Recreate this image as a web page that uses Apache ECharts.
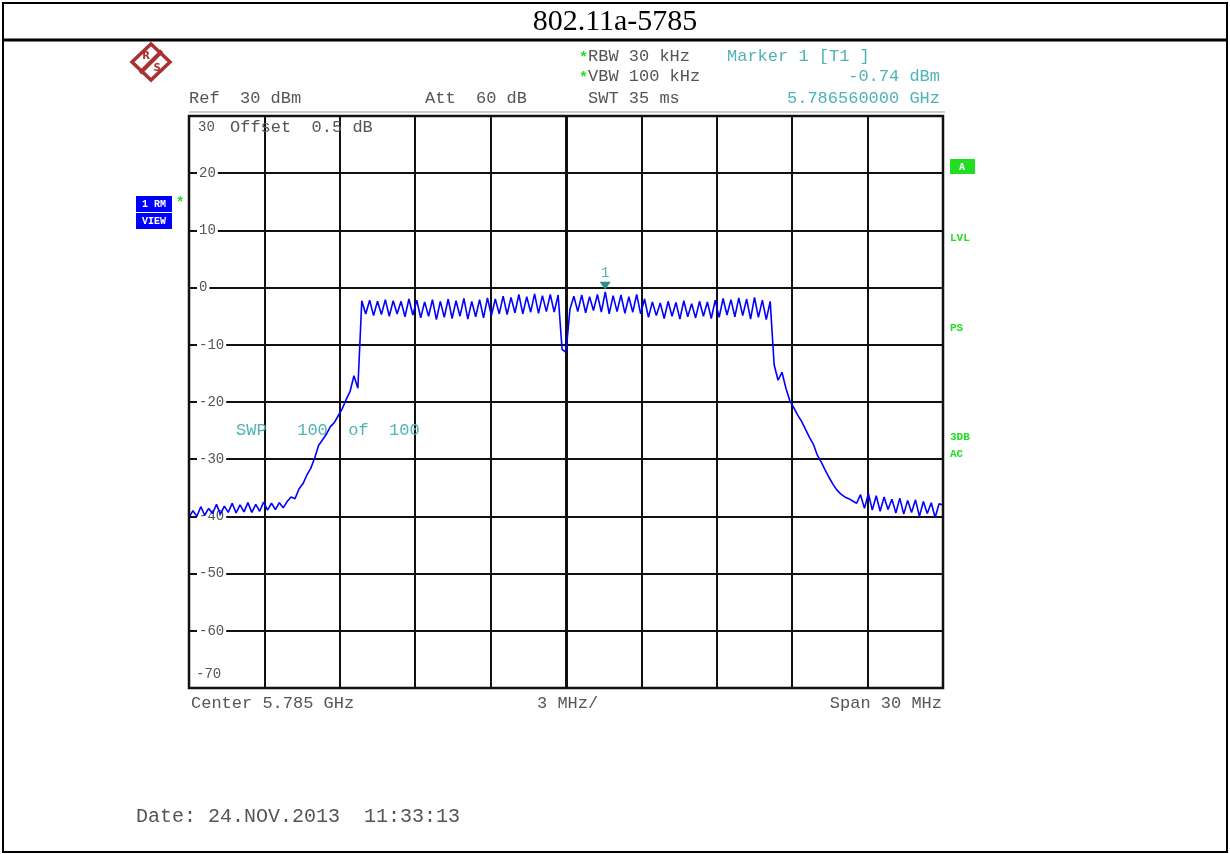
<!DOCTYPE html>
<html lang="en">
<head>
<meta charset="UTF-8">
<title>802.11a-5785</title>
<script src="https://cdn.jsdelivr.net/npm/echarts@6/dist/echarts.min.js"></script>
<style>
  html, body { margin: 0; padding: 0; background: #fff; }
  #main { width: 1230px; height: 854px; }
</style>
</head>
<body>
<div id="main"></div>
<script>
// trace levels in dBm, one point every 0.15625 MHz from -15 MHz (offset from 5.785 GHz)
var startMHz = -15;
var stepMHz = 0.15625;
var floorLeft = [-40.2, -39, -40, -38.3, -39.8, -38.6, -39.5, -37.9, -39.6, -38.2, -39.3, -37.7, -39.4,
    -38, -39.2, -37.6, -39.3, -37.9, -39.1, -37.5, -38.9, -37.7, -38.8, -37.6, -38.5];
var riseLeft = [-37.4, -36.6, -36.9, -35.2, -34.3, -32.8, -31.6, -29.8, -27.6, -26.6, -25.6, -24.3,
    -23.6, -22.4, -21.2, -19.6, -18.2, -15.4, -17.6];
var bandLeft = [-2.3, -4.6, -2.2, -4.9, -2.4, -4.7, -2.1, -5.0, -2.3, -4.6, -2.4, -5.1, -2.0, -4.8,
    -2.2, -5.3, -2.5, -5.0, -2.1, -5.6, -2.4, -5.2, -2.0, -5.4, -2.3, -5.0, -1.9, -5.5, -2.4, -5.1,
    -2.1, -5.3, -1.8, -4.9, -2.0, -4.6, -1.5, -4.7, -1.7, -4.4, -1.2, -4.6, -1.6, -4.3, -1.1, -4.5,
    -1.4, -4.2, -1.2, -4.3, -1.3];
var notch = [-10.8, -11.3];
var bandRight = [-3.8, -1.5, -4.2, -1.3, -4.4, -1.6, -4.0, -1.2, -4.3, -0.74, -4.6, -1.4, -4.2, -1.3,
    -4.5, -1.6, -4.3, -1.2, -4.6, -2.0, -5.2, -2.5, -4.9, -2.7, -5.4, -2.4, -5.0, -2.6, -5.5, -2.3,
    -5.1, -2.8, -5.3, -2.4, -5.0, -2.5, -5.4, -2.2, -5.2, -1.9, -4.8, -2.1, -5.1, -1.8, -4.9, -2.0,
    -5.5, -1.7, -5.2, -2.2, -5.6, -2.4];
var fallRight = [-13.5, -16.2, -14.8, -17.6, -19.8, -21.0, -22.3, -23.4, -24.8, -26.2, -27.4, -29.3,
    -30.5, -31.9, -33.2, -34.4, -35.4, -36.1, -36.6, -36.9, -37.3, -37.7];
var floorRight = [-36.2, -38.6, -36.0, -38.9, -36.4, -39.1, -36.6, -38.8, -37.0, -39.4, -36.8, -39.6,
    -37.2, -39.3, -37.1, -40.0, -37.4, -39.5, -37.6, -40.2, -37.8, -38.0];

var markerMHz = 1.56;
var markerDbm = -0.74;
var yLabels = ['-70', '-60', '-50', '-40', '-30', '-20', '-10', '0', '10', '20', '30'];

var levels = floorLeft.concat(riseLeft, bandLeft, notch, bandRight, fallRight, floorRight);
var trace = [];
for (var i = 0; i < levels.length; i++) {
    trace.push([startMHz + i * stepMHz, levels[i]]);
}

var mono = '"Liberation Mono", "DejaVu Sans Mono", monospace';
var gray = '#555';
var teal = '#4fb3b3';
var green = '#22dd22';

function txt(x, y, s, color, size, align, extra) {
    var st = {
        text: s, fill: color, font: (size || 17) + 'px ' + mono,
        textAlign: align || 'left', textVerticalAlign: 'middle'
    };
    if (extra) { for (var k in extra) st[k] = extra[k]; }
    return { type: 'text', x: x, y: y, z: 10, style: st };
}

var myChart = echarts.init(document.getElementById('main'));
var option = {
    backgroundColor: '#fff',
    animation: false,
    grid: { left: 189, top: 116, width: 754, height: 572, show: false },
    xAxis: {
        type: 'value', min: -15, max: 15, interval: 3,
        axisLine: { show: false }, axisTick: { show: false }, axisLabel: { show: false },
        splitLine: { show: true, lineStyle: { color: '#111', width: 2 } }
    },
    yAxis: {
        type: 'value', min: -70, max: 30, interval: 10,
        axisLine: { show: false }, axisTick: { show: false },
        splitLine: { show: true, lineStyle: { color: '#111', width: 2 } },
        axisLabel: {
            inside: true, margin: 8, color: gray, fontFamily: mono, fontSize: 14,
            backgroundColor: '#fff', padding: [0, 2],
            formatter: function (v) {
                var s = String(v);
                if (s === '30' || s === '-70') return '';
                return yLabels.indexOf(s) >= 0 ? s : '';
            }
        }
    },
    series: [{
        type: 'line',
        data: trace,
        symbol: 'none',
        z: 5,
        lineStyle: { color: '#0000ff', width: 1.6 },
        markLine: {
            silent: true, symbol: 'none', label: { show: false },
            lineStyle: { color: '#111', width: 3, type: 'solid' },
            data: [{ xAxis: 0 }]
        },
        markPoint: {
            silent: true,
            symbol: 'triangle', symbolRotate: 180, symbolSize: [11, 8], symbolOffset: [0, -6],
            itemStyle: { color: '#2a8c8c' },
            label: { show: true, position: 'top', distance: 2, color: teal, fontFamily: mono, fontSize: 14, formatter: '1' },
            data: [{ coord: [markerMHz, markerDbm] }]
        }
    }],
    graphic: [
        // page frame and title row
        { type: 'rect', z: 1, shape: { x: 3, y: 3, width: 1224, height: 849 }, style: { fill: 'none', stroke: '#000', lineWidth: 2 } },
        { type: 'line', z: 1, shape: { x1: 3, y1: 40, x2: 1227, y2: 40 }, style: { stroke: '#000', lineWidth: 3 } },
        { type: 'text', x: 615, y: 22, z: 10, style: { text: '802.11a-5785', font: '30px "Liberation Serif", "DejaVu Serif", serif', fill: '#000', textAlign: 'center', textVerticalAlign: 'middle' } },
        // plot frame
        { type: 'rect', z: 8, shape: { x: 189, y: 116, width: 754, height: 572 }, style: { fill: 'none', stroke: '#111', lineWidth: 2.5 } },
        { type: 'line', z: 1, shape: { x1: 189, y1: 112, x2: 945, y2: 112 }, style: { stroke: '#ccc', lineWidth: 2 } },
        // R&S logo
        { type: 'polygon', z: 10, shape: { points: [[151, 44], [170, 62], [151, 80], [132, 62]] }, style: { fill: 'none', stroke: '#a83232', lineWidth: 3.5 } },
        { type: 'line', z: 10, shape: { x1: 140, y1: 73, x2: 162, y2: 51 }, style: { stroke: '#a83232', lineWidth: 4 } },
        txt(146, 56, 'R', '#a83232', 10, 'center', { font: 'bold 10px "DejaVu Sans", sans-serif' }),
        txt(157, 68, 'S', '#a83232', 10, 'center', { font: 'bold 10px "DejaVu Sans", sans-serif' }),
        // header texts
        txt(579, 58, '*', green, 14, 'left', { font: 'bold 15px ' + mono }),
        txt(588, 56, 'RBW 30 kHz', gray),
        txt(579, 78, '*', green, 14, 'left', { font: 'bold 15px ' + mono }),
        txt(588, 76, 'VBW 100 kHz', gray),
        txt(727, 56, 'Marker 1 [T1 ]', teal),
        txt(940, 76, '-0.74 dBm', teal, 17, 'right'),
        txt(189, 98, 'Ref  30 dBm', gray),
        txt(425, 98, 'Att  60 dB', gray),
        txt(588, 98, 'SWT 35 ms', gray),
        txt(940, 98, '5.786560000 GHz', teal, 17, 'right'),
        // in-plot annotations
        txt(198, 127, '30', gray, 14, 'left', { backgroundColor: '#fff' }),
        txt(230, 127, 'Offset  0.5 dB', gray),
        txt(196, 674, '-70', gray, 14),
        txt(236, 430, 'SWP   100  of  100', teal),
        // trace indicator
        { type: 'rect', z: 10, shape: { x: 136, y: 196, width: 36, height: 33 }, style: { fill: '#0000ff' } },
        { type: 'line', z: 11, shape: { x1: 136, y1: 212.5, x2: 172, y2: 212.5 }, style: { stroke: '#fff', lineWidth: 1 } },
        txt(154, 204, '1 RM', '#fff', 10, 'center', { font: 'bold 10px ' + mono }),
        txt(154, 221, 'VIEW', '#fff', 10, 'center', { font: 'bold 10px ' + mono }),
        txt(176, 203, '*', green, 14, 'left', { font: 'bold 14px ' + mono }),
        // right side status
        { type: 'rect', z: 10, shape: { x: 950, y: 159, width: 25, height: 15 }, style: { fill: green } },
        txt(962, 167, 'A', '#fff', 10, 'center', { font: 'bold 10px ' + mono }),
        txt(950, 238, 'LVL', green, 10, 'left', { font: 'bold 11px ' + mono }),
        txt(950, 328, 'PS', green, 10, 'left', { font: 'bold 11px ' + mono }),
        txt(950, 437, '3DB', green, 10, 'left', { font: 'bold 11px ' + mono }),
        txt(950, 454, 'AC', green, 10, 'left', { font: 'bold 11px ' + mono }),
        // footer texts
        txt(191, 703, 'Center 5.785 GHz', gray),
        txt(537, 703, '3 MHz/', gray),
        txt(942, 703, 'Span 30 MHz', gray, 17, 'right'),
        txt(136, 817, 'Date: 24.NOV.2013  11:33:13', gray, 20)
    ]
};
myChart.setOption(option);
</script>
</body>
</html>
